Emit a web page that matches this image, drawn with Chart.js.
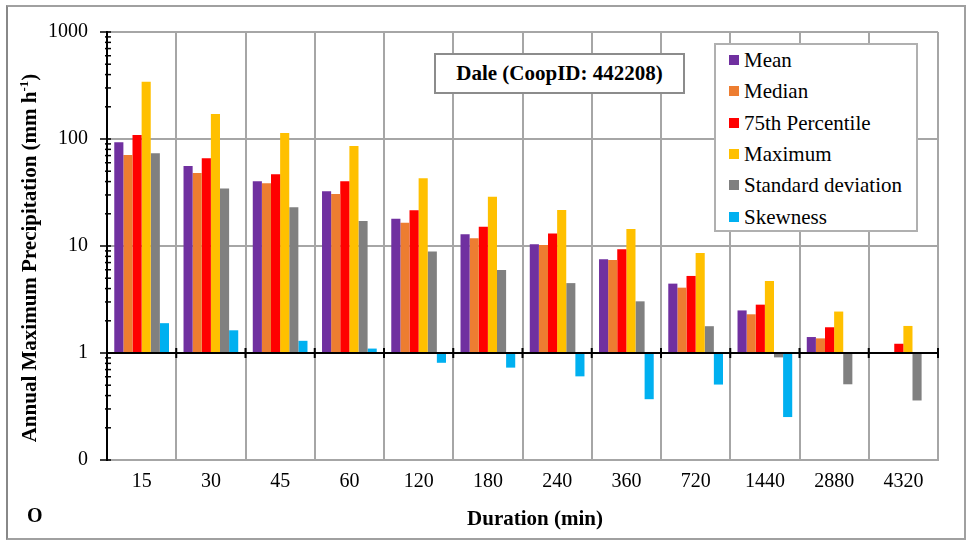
<!DOCTYPE html>
<html>
<head>
<meta charset="utf-8">
<script src="https://cdn.jsdelivr.net/npm/chart.js@4.4.1/dist/chart.umd.min.js"></script>
<style>
    body { margin: 0; background: #fff; }
    .wrap { position: relative; width: 967px; height: 542px; font-family: "Liberation Serif", serif; }
    .frame { position: absolute; left: 6px; top: 5px; width: 956px; height: 531px; border: 2px solid #a0a0a0; border-left-color: #888; }
    .title-box { position: absolute; left: 434px; top: 53px; width: 247px; height: 37px; border: 2px solid #8c8c8c; background: #fff;
        font-weight: bold; font-size: 21px; line-height: 37px; text-align: center; }
    .legend-box { position: absolute; left: 714px; top: 43px; width: 200px; height: 185px; border: 2px solid #b0b0b0; background: #fff; }
    .legend-row { position: absolute; left: 13px; font-size: 21px; line-height: 22px; white-space: nowrap; }
    .legend-row span { display: inline-block; width: 10px; height: 10px; margin-right: 5px; vertical-align: 2px; }
    .corner { position: absolute; left: 27px; top: 504px; font-size: 20px; font-weight: bold; }
    canvas { position: absolute; left: 0; top: 0; }
</style>
</head>
<body>
<div class="wrap">
    <canvas id="chart" width="967" height="542"></canvas>
    <div class="frame"></div>
    <div class="title-box">Dale (CoopID: 442208)</div>
    <div class="legend-box" id="legend"></div>
    <div class="corner">O</div>
</div>
<script>
// durations (min)
const categories = ['15', '30', '45', '60', '120', '180', '240', '360', '720', '1440', '2880', '4320']
const meanVals   = [93, 56, 40.3, 32.4, 18, 12.9, 10.4, 7.5, 4.45, 2.5, 1.41, 1.01]
const medianVals = [71, 48, 38.6, 30.6, 16.5, 11.8, 10.2, 7.4, 4.08, 2.3, 1.37, 1.01]
const p75Vals    = [109, 66, 46.8, 40.3, 21.6, 15.1, 13.1, 9.3, 5.25, 2.83, 1.74, 1.22]
const maxVals    = [343, 171, 114, 86, 43, 28.9, 21.7, 14.4, 8.6, 4.71, 2.44, 1.79]
const sdVals     = [73.5, 34.4, 23, 17.1, 8.9, 5.97, 4.5, 3.04, 1.78, 0.91, 0.51, 0.36]
const skewVals   = [1.9, 1.63, 1.3, 1.1, 0.81, 0.73, 0.605, 0.37, 0.507, 0.252, null, null]
const yTicks = [0.1, 1, 10, 100, 1000]
const yTickLabels = ['0', '1', '10', '100', '1000']

const seriesNames = ['Mean', 'Median', '75th Percentile', 'Maximum', 'Standard deviation', 'Skewness']
const seriesColors = ['#7030A0', '#ED7D31', '#FF0000', '#FFC000', '#808080', '#00B0F0']
const seriesData = [meanVals, medianVals, p75Vals, maxVals, sdVals, skewVals]

const FONT = '"Liberation Serif", serif'

// html legend built from the series
const legend = document.getElementById('legend')
seriesNames.forEach((name, i) => {
    const row = document.createElement('div')
    row.className = 'legend-row'
    row.style.top = (4 + i * 31.3) + 'px'
    row.innerHTML = `<span style="background:${seriesColors[i]}"></span>${name}`
    legend.appendChild(row)
})

// axis decorations: black y axis ticks, the x axis line crossing at 1, axis titles
const axisDeco = {
    id: 'axisDeco',
    afterDatasetsDraw(chart) {
        const ctx = chart.ctx
        const y = chart.scales.y
        const area = chart.chartArea
        ctx.save()
        ctx.strokeStyle = '#000'
        // y minor + major ticks
        ctx.lineWidth = 1.5
        for (let d = -1; d < 3; d++) {
            for (let m = 1; m < 10; m++) {
                const py = y.getPixelForValue(m * Math.pow(10, d))
                ctx.beginPath()
                if (m === 1) { ctx.moveTo(area.left - 7, py); ctx.lineTo(area.left + 4, py) }
                else { ctx.moveTo(area.left - 2, py); ctx.lineTo(area.left + 4, py) }
                ctx.stroke()
            }
        }
        let py = y.getPixelForValue(1000)
        ctx.beginPath(); ctx.moveTo(area.left - 7, py); ctx.lineTo(area.left + 4, py); ctx.stroke()
        // x axis at value 1
        const y1 = y.getPixelForValue(1)
        ctx.lineWidth = 2
        ctx.beginPath(); ctx.moveTo(area.left, y1); ctx.lineTo(area.right, y1); ctx.stroke()
        const step = (area.right - area.left) / categories.length
        for (let i = 0; i <= categories.length; i++) {
            const px = area.left + i * step
            ctx.beginPath(); ctx.moveTo(px, y1 - 5); ctx.lineTo(px, y1 + 5); ctx.stroke()
        }
        ctx.fillStyle = '#000'
        ctx.textBaseline = 'middle'
        // x title
        ctx.textAlign = 'center'
        ctx.font = 'bold 21px ' + FONT
        ctx.fillText('Duration (min)', 535, 520)
        // y title
        ctx.translate(31, 258)
        ctx.rotate(-Math.PI / 2)
        const main = 'Annual Maximum Precipitation (mm h'
        ctx.font = 'bold 21px ' + FONT
        const w1 = ctx.measureText(main).width
        ctx.font = 'bold 13px ' + FONT
        const w2 = ctx.measureText('-1').width
        ctx.font = 'bold 21px ' + FONT
        const w3 = ctx.measureText(')').width
        let sx = -(w1 + w2 + w3) / 2
        ctx.textAlign = 'left'
        ctx.fillText(main, sx, 0)
        sx += w1
        ctx.font = 'bold 13px ' + FONT
        ctx.fillText('-1', sx, -6)
        sx += w2
        ctx.font = 'bold 21px ' + FONT
        ctx.fillText(')', sx, 0)
        ctx.restore()
    }
}

new Chart(document.getElementById('chart'), {
    type: 'bar',
    data: {
        labels: categories,
        datasets: seriesNames.map((name, i) => ({
            label: name,
            data: seriesData[i],
            backgroundColor: seriesColors[i],
            borderWidth: 0,
            base: 1,
            categoryPercentage: 0.79,
            barPercentage: 1.0
        }))
    },
    options: {
        responsive: false,
        animation: false,
        layout: { padding: { left: 0, right: 29, top: 32, bottom: 8 } },
        plugins: { legend: { display: false }, tooltip: { enabled: false } },
        scales: {
            x: {
                grid: { color: '#a6a6a6', lineWidth: 2, offset: true, drawTicks: false },
                border: { color: '#a6a6a6', width: 2 },
                ticks: { color: '#000', font: { family: FONT, size: 20 }, padding: 10, maxRotation: 0 },
                afterFit(scale) { scale.height = 74 }
            },
            y: {
                type: 'logarithmic',
                min: 0.1,
                max: 1000,
                afterBuildTicks(scale) { scale.ticks = yTicks.map(v => ({ value: v })) },
                grid: { color: '#a6a6a6', lineWidth: 2, drawTicks: false },
                border: { color: '#000', width: 2 },
                ticks: {
                    color: '#000',
                    font: { family: FONT, size: 20 },
                    padding: 19,
                    callback: (v) => yTickLabels[yTicks.indexOf(v)]
                },
                afterFit(scale) { scale.width = 107 }
            }
        }
    },
    plugins: [axisDeco]
})
</script>
</body>
</html>
